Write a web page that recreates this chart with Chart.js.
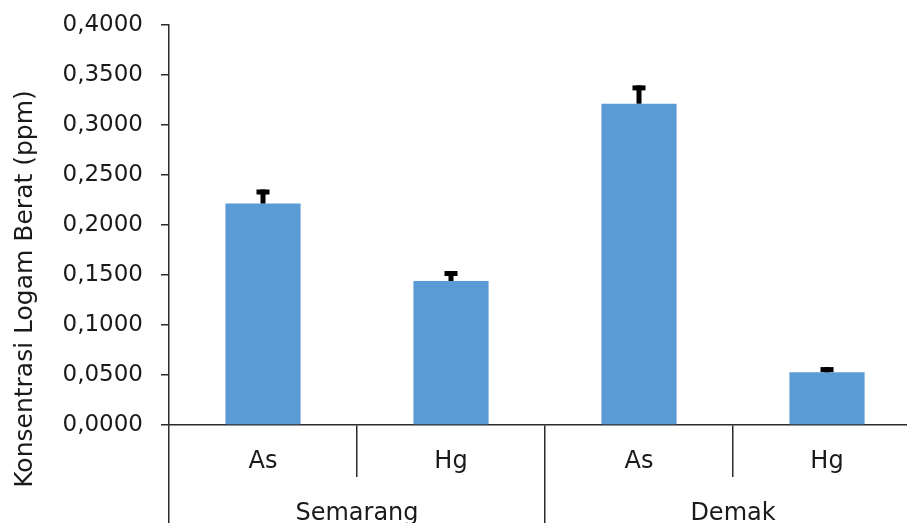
<!DOCTYPE html>
<html>
<head>
<meta charset="utf-8">
<script src="https://cdn.jsdelivr.net/npm/chart.js@4.4.1/dist/chart.umd.min.js"></script>
<style>
    html, body { margin: 0; padding: 0; overflow: hidden; background: #fff; }
    #wrap { width: 925px; height: 540px; }
</style>
</head>
<body>
<div id="wrap"><canvas id="chart"></canvas></div>
<script>
// Data
const elements = ['As', 'Hg', 'As', 'Hg'];
const locations = ['Semarang', 'Demak'];
const concentration = [0.2215, 0.1440, 0.3213, 0.0527];
const stdError = [0.0140, 0.0100, 0.0183, 0.0052];
const yMin = 0;
const yMax = 0.4;
const yStep = 0.05;
const yTitle = 'Konsentrasi Logam Berat (ppm)';

const FONT = 'DejaVu Sans';
const TEXT = '#1a1a1a';
const LINE = '#2b2b2b';

// Error bars: stem + cap on top of each bar
const errorBars = {
    id: 'errorBars',
    afterDatasetsDraw(chart) {
        const ctx = chart.ctx;
        const y = chart.scales.y;
        const meta = chart.getDatasetMeta(0);
        ctx.save();
        ctx.fillStyle = '#000';
        meta.data.forEach((bar, i) => {
            const top = y.getPixelForValue(concentration[i] + stdError[i]);
            ctx.fillRect(bar.x - 2.5, top, 5, bar.y - top);
            ctx.fillRect(bar.x - 6.5, top, 13, 5);
        });
        ctx.restore();
    }
};

// Y axis title (sits lower than the plot centre in the original)
const axisTitle = {
    id: 'axisTitle',
    afterDraw(chart) {
        const ctx = chart.ctx;
        ctx.save();
        ctx.translate(32, 289);
        ctx.rotate(-Math.PI / 2);
        ctx.font = `25px "${FONT}"`;
        ctx.fillStyle = TEXT;
        ctx.textAlign = 'center';
        ctx.textBaseline = 'alphabetic';
        ctx.fillText(yTitle, 0, 0);
        ctx.restore();
    }
};

const ctx = document.getElementById('chart').getContext('2d');

new Chart(ctx, {
    type: 'bar',
    data: {
        labels: elements,
        datasets: [{
            data: concentration,
            backgroundColor: '#5b9bd5',
            categoryPercentage: 1,
            barPercentage: 0.4
        }]
    },
    options: {
        responsive: true,
        maintainAspectRatio: false,
        animation: false,
        devicePixelRatio: 1,
        layout: {
            padding: { top: 25, right: 4, bottom: 0, left: 0 }
        },
        plugins: {
            legend: { display: false },
            tooltip: { enabled: false }
        },
        scales: {
            x: {
                type: 'category',
                offset: true,
                grid: {
                    offset: true,
                    drawOnChartArea: false,
                    tickLength: 52,
                    color: LINE,
                    lineWidth: 1.5
                },
                border: { color: LINE, width: 1.5 },
                ticks: {
                    color: TEXT,
                    font: { family: FONT, size: 24 },
                    padding: -30,
                    maxRotation: 0,
                    autoSkip: false
                },
                afterFit: (scale) => { scale.height = 52; }
            },
            x2: {
                type: 'category',
                position: 'bottom',
                labels: locations,
                offset: true,
                grid: {
                    offset: true,
                    drawOnChartArea: false,
                    tickLength: 70,
                    color: LINE,
                    lineWidth: 1.5
                },
                border: { display: false },
                ticks: {
                    color: TEXT,
                    font: { family: FONT, size: 24 },
                    padding: -48,
                    maxRotation: 0,
                    autoSkip: false
                },
                afterFit: (scale) => { scale.height = 63; }
            },
            y: {
                min: yMin,
                max: yMax,
                grid: {
                    drawOnChartArea: false,
                    tickLength: 8,
                    color: LINE,
                    lineWidth: 1.5
                },
                border: { color: LINE, width: 1.5 },
                ticks: {
                    stepSize: yStep,
                    color: TEXT,
                    font: { family: FONT, size: 23 },
                    padding: 18,
                    callback: (value) => value.toFixed(4).replace('.', ',')
                },
                afterFit: (scale) => {
                    scale.width = 169;
                    // tick padding otherwise pushes the plot top down
                    scale.paddingTop = 0;
                    scale.paddingBottom = 0;
                }
            }
        }
    },
    plugins: [errorBars, axisTitle]
});
</script>
</body>
</html>
